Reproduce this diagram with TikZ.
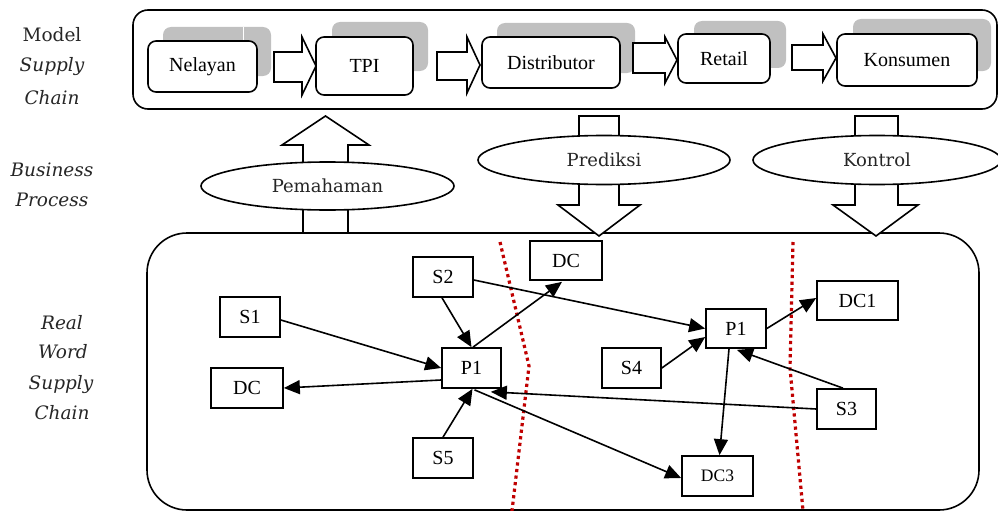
\documentclass[tikz,border=0pt]{standalone}
\usepackage{fontspec}
\setmainfont{Liberation Serif}
\newfontfamily\lblfont{DejaVu Serif}
\usetikzlibrary{arrows.meta,calc,shapes.geometric}
\definecolor{shadowgrey}{RGB}{192,192,192}
\definecolor{borderred}{RGB}{192,0,0}

\begin{document}
\begin{tikzpicture}[x=1pt,y=-1pt,
  frame/.style={draw,line width=1.6pt,fill=white,inner sep=0pt},
  stage/.style={draw,line width=1.6pt,rounded corners=8pt,fill=white,inner sep=0pt,
                font=\fontsize{20}{23}\selectfont},
  shade/.style={fill=shadowgrey,rounded corners=8pt},
  flow/.style={draw,line width=1.6pt,fill=white,line join=miter},
  bubble/.style={draw,ellipse,line width=1.6pt,fill=white,inner sep=0pt,
                 font=\lblfont\fontsize{18}{22}\selectfont,text=black!85},
  unit/.style={draw,line width=1.7pt,fill=white,inner sep=0pt,minimum height=40pt,
               font=\fontsize{20}{23}\selectfont},
  link/.style={line width=1.6pt,-{Triangle[length=16pt,width=14pt]}},
  border/.style={draw=borderred,line width=3.2pt,dash pattern=on 3.2pt off 3.4pt},
  side/.style={font=\lblfont\fontsize{18.5}{22}\selectfont,text=black!85,inner sep=0pt},
  sideit/.style={font=\lblfont\itshape\fontsize{18.5}{22}\selectfont,text=black!85,inner sep=0pt}
]
\useasboundingbox (0,0) rectangle (998,511);

% ---- side captions ----
\node[side]   (m1) at (52,35)  {Model};
\node[sideit] (m2) at (52,67)  {Supply};
\node[sideit] (m3) at (52,98)  {Chain};
\node[sideit] (b1) at (52,170) {Business};
\node[sideit] (b2) at (52,200) {Process};
\node[sideit] (r1) at (62,323) {Real};
\node[sideit] (r2) at (63,352) {Word};
\node[sideit] (r3) at (61,385) {Supply};
\node[sideit] (r4) at (62,413) {Chain};

% ---- model supply chain (top band) ----
\node[frame,rounded corners=15pt,minimum width=864pt,minimum height=99pt] (model) at (565,59.5) {};

% grey back plates
\fill[shade] (163,27) rectangle (271,76);
\draw[white,line width=0.8pt] (243.5,27) -- (243.5,76);
\fill[shade] (332,22) rectangle (428,71);
\fill[shade] (497,23) rectangle (635,73);
\fill[shade] (694,21) rectangle (786,68);
\fill[shade] (853,19) rectangle (991,71);

% stages
\node[stage,minimum width=109pt,minimum height=51pt] (nel) at (202.5,66.5) {Nelayan};
\node[stage,minimum width=97pt,minimum height=58pt]  (tpi) at (364.5,66)   {TPI};
\node[stage,minimum width=138pt,minimum height=51pt] (dis) at (551,62.5)   {Distributor};
\node[stage,minimum width=92pt,minimum height=49pt]  (ret) at (724,58.5)   {Retail};
\node[stage,minimum width=140pt,minimum height=52pt] (kon) at (907,60)     {Konsumen};

% block arrows between stages
\draw[flow] (274,52) -- (302,52) -- (302,37) -- (316,66) -- (302,95) -- (302,82) -- (274,82) -- cycle;
\draw[flow] (437,52) -- (467,52) -- (467,37) -- (480,65) -- (467,93) -- (467,80) -- (437,80) -- cycle;
\draw[flow] (633,43) -- (665,43) -- (665,37) -- (677,60) -- (665,83) -- (665,73) -- (633,73) -- cycle;
\draw[flow] (792,45) -- (823,45) -- (823,34) -- (836,58) -- (823,81) -- (823,70) -- (792,70) -- cycle;

% ---- real world supply chain (bottom band) ----
\node[frame,rounded corners=40pt,minimum width=832pt,minimum height=277pt] (real) at (563,371.5) {};

% ---- business process arrows ----
\draw[flow] (303,233) -- (303,145) -- (282,145) -- (325.5,116) -- (369,145) -- (348,145) -- (348,233) -- cycle;
\draw[flow] (579,116) -- (579,205) -- (558,205) -- (599,236) -- (640,205) -- (619,205) -- (619,116) -- cycle;
\draw[flow] (855,116) -- (855,205) -- (833,205) -- (876,236) -- (918,205) -- (898,205) -- (898,116) -- cycle;

\node[bubble,minimum width=253pt,minimum height=48pt] (pem) at (327.5,186) {Pemahaman};
\node[bubble,minimum width=252pt,minimum height=49pt] (pre) at (604,160)   {Prediksi};
\node[bubble,minimum width=248pt,minimum height=49pt] (kot) at (877,160)   {Kontrol};

% ---- region boundaries ----
\draw[border] (500,242) -- (529,366) -- (512,511);
\draw[border] (793,242) -- (790,368) -- (803,511);

% ---- network nodes ----
\node[unit,minimum width=60pt] (s1)  at (250,317)   {S1};
\node[unit,minimum width=72pt] (dcl) at (247,388)   {DC};
\node[unit,minimum width=60pt] (s2)  at (443,277)   {S2};
\node[unit,minimum width=59pt] (p1l) at (471.5,368) {P1};
\node[unit,minimum width=60pt] (s5)  at (443,458)   {S5};
\node[unit,minimum width=72pt,minimum height=39pt] (dcm) at (566,260.5) {DC};
\node[unit,minimum width=60pt,minimum height=39pt] (p1r) at (736,328.5) {P1};
\node[unit,minimum width=81pt,minimum height=39pt] (dc1) at (857.5,300.5) {DC1};
\node[unit,minimum width=59pt] (s4)  at (631.5,368) {S4};
\node[unit,minimum width=59pt] (s3)  at (846.5,409) {S3};
\node[unit,minimum width=71pt,font=\fontsize{17.5}{20}\selectfont] (dc3) at (717.5,476) {DC3};

% ---- flows ----
\draw[link] ($(s1.east)+(0,3)$) -- (p1l.west);
\draw[link] ($(p1l.west)+(0,12)$) -- (dcl.east);
\draw[link] ($(s2.south)+(-1,0)$) -- (p1l.north);
\draw[link] ($(p1l.north)+(1.5,0)$) -- ($(dcm.south)+(-4,1)$);
\draw[link] (s5.north) -- ($(p1l.south)+(1,0)$);
\draw[link] ($(s2.east)+(0,3)$) -- (p1r.west);
\draw[link] (s4.east) -- ($(p1r.west)+(0,8.5)$);
\draw[link] (p1r.east) -- ($(dc1.west)+(0,-2.5)$);
\draw[link] ($(s3.north)+(-3.5,0)$) -- ($(p1r.south)+(1,1)$);
\draw[link] (s3.west) -- ($(p1l.south east)+(-11,3)$);
\draw[link] ($(p1l.south)+(3,1)$) -- ($(dc3.west)+(0,2)$);
\draw[link] ($(p1r.south)+(-7,0)$) -- ($(dc3.north)+(2,0)$);

\end{tikzpicture}
\end{document}
